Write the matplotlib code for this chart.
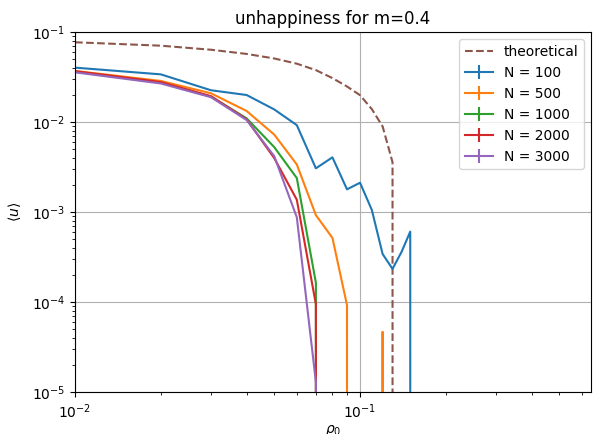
import numpy as np
import matplotlib
matplotlib.use("Agg")
import matplotlib.pyplot as plt

rho = [0.01, 0.02, 0.03, 0.04, 0.05, 0.06, 0.07, 0.08, 0.09, 0.10,
       0.11, 0.12, 0.13, 0.14, 0.15, 0.16]

u_100 = [0.0405, 0.0341, 0.0227, 0.0201, 0.0139, 0.0093, 0.00308, 0.00408,
         0.0018, 0.00213, 0.00106, 0.000344, 0.000235, 0.000366, 0.00061, 0]
u_500 = [0.0372, 0.0288, 0.0210, 0.01336, 0.0073, 0.0034, 0.00093, 0.00052,
         9.3e-5, 0, 0, 4.7e-5, 0, 0, 0, 0]
u_1000 = [0.0365, 0.0275, 0.0193, 0.01107, 0.0053, 0.0024, 0.000165, 0,
          0, 0, 0, 0, 0, 0, 0, 0]
u_2000 = [0.0370, 0.0280, 0.0195, 0.0108, 0.0040, 0.00138, 9.5e-5, 0,
          0, 0, 0, 0, 0, 0, 0, 0]
u_3000 = [0.0359, 0.0270, 0.0190, 0.0106, 0.0042, 0.00088, 1.3e-5, 0,
          0, 0, 0, 0, 0, 0, 0, 0]
u_err = [0] * len(rho)

theory = [0.0775, 0.0710, 0.0640, 0.0575, 0.0512, 0.0448, 0.0380, 0.0310,
          0.0250, 0.0200, 0.0140, 0.0090, 0.0036, 0, 0, 0]

series = [("N = 100", u_100), ("N = 500", u_500), ("N = 1000", u_1000),
          ("N = 2000", u_2000), ("N = 3000", u_3000)]

fig = plt.figure(figsize=(5.99, 4.34), dpi=100)
ax = fig.add_axes([75/599, 1 - 392.3/434, (591-75)/599, (392.3-32.3)/434])

for lab, vals in series:
    ax.errorbar(rho, vals, yerr=u_err, label=lab)
ax.plot(rho, theory, '--', label="theoretical")

ax.set_xscale('log')
ax.set_yscale('log')
ax.set_xlim(0.01, 0.646)
ax.set_ylim(1e-5, 1e-1)
ax.grid(True)
ax.set_title("unhappiness for m=0.4")
ax.set_xlabel(r"$\rho_0$", labelpad=1.5)
ax.set_ylabel(r"$\langle u \rangle$", labelpad=6)
ax.legend(loc="upper right")

fig.savefig("out.png", dpi=100)
